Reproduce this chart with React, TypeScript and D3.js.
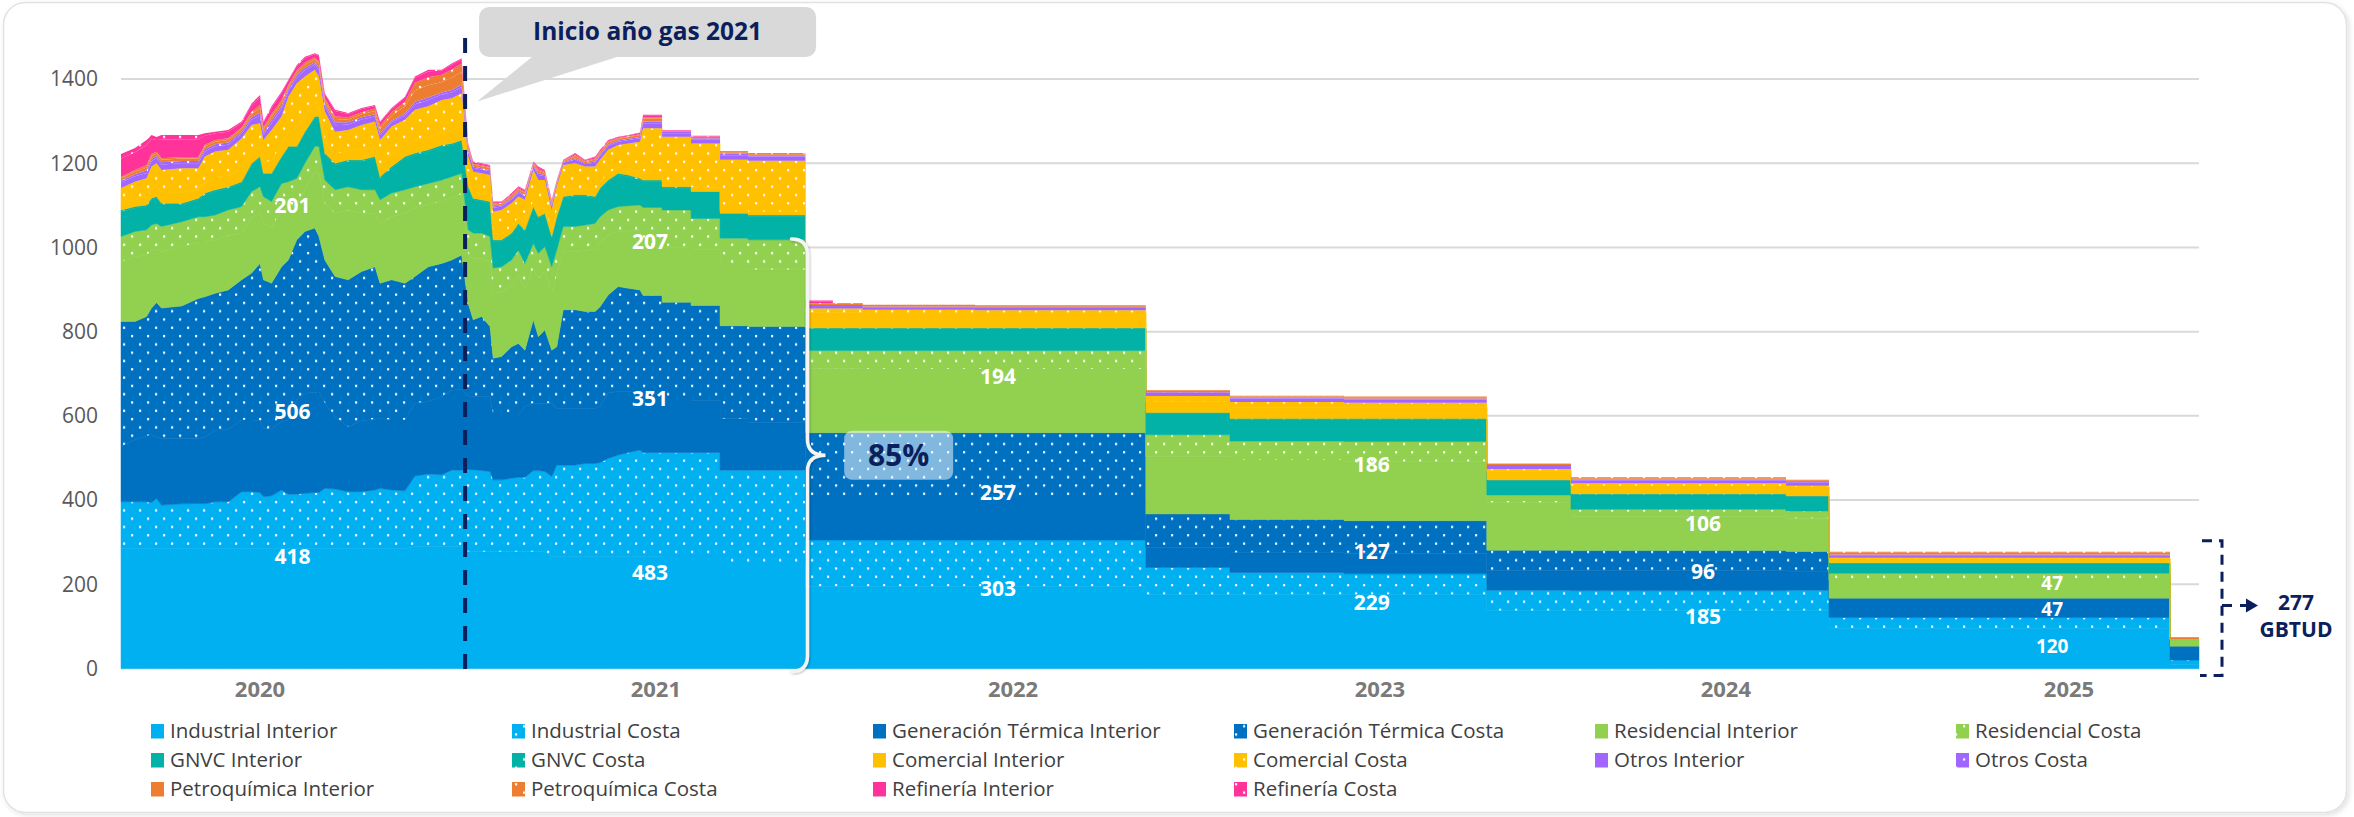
import React from 'react';
import * as d3 from 'd3';

const W = 2354;
const H = 817;

// x positions are in months since Jan 2020
const dailyMonths = [
  0, 0.45, 0.82, 0.98, 1.14, 1.3, 1.95, 2.48, 2.69, 3.02, 3.44, 3.87, 4.19, 4.46, 4.57, 4.83, 5.15, 5.37, 5.64, 5.9,
  6.22, 6.35, 6.54, 6.87, 7.29, 7.72, 8.15, 8.31, 8.68, 9.11, 9.43, 9.86, 10.29, 10.61, 10.93,
  11.14, 11.3, 11.57, 11.84, 11.94, 12.21, 12.53, 12.75, 12.96, 13.23, 13.39, 13.6, 13.82, 13.98, 14.19, 14.57, 14.89,
  15.21, 15.37, 15.63, 15.95, 16.28, 16.65,
];
// contract periods (flat steps) after the daily data
const segmentEdges = [16.75, 17.36, 18.29, 19.22, 20.12, 21.96, 22.84, 23.8, 27.4, 32.88, 35.58, 39.24, 42.44, 43.82, 46.52, 49.31, 53.42, 54.8, 65.74, 66.67];

const industrialInterior = [
  285, 285, 285, 285, 285, 285, 285, 285, 285, 285, 285, 285, 285, 285, 285, 285, 285, 285, 285, 285, 285, 285, 285, 285, 285, 285, 285, 285, 285, 285, 289, 289, 289, 289, 289,
  277, 277, 277, 277, 277, 277, 277, 277, 277, 277, 277, 277, 266, 266, 266, 266, 266, 266, 266, 266, 266, 266, 266,
  266, 265, 265, 246, 246, 195, 195, 194, 194, 175, 176, 175, 175, 137, 137, 137, 137, 95, 10,
];
const industrialCosta = [
  111, 111, 111, 109, 119, 103, 106, 107, 106, 111, 111, 135, 135, 133, 123, 125, 139, 129, 129, 131, 133, 133, 143, 141, 135, 135, 139, 143, 139, 137, 168, 173, 171, 182, 182,
  195, 195, 193, 191, 171, 171, 175, 177, 177, 193, 193, 191, 190, 217, 217, 217, 221, 221, 223, 233, 241, 247, 253,
  247, 248, 248, 225, 225, 110, 110, 111, 111, 65, 52, 50, 50, 49, 48, 48, 49, 26, 10,
];
const genInterior = [
  131, 147, 156, 161, 145, 159, 156, 155, 158, 170, 172, 170, 170, 171, 162, 158, 162, 176, 224, 238, 237, 240, 202, 172, 154, 169, 168, 166, 166, 168, 173, 172, 186, 190, 192,
  174, 174, 176, 178, 154, 154, 150, 148, 168, 160, 160, 162, 174, 135, 135, 135, 131, 131, 133, 155, 151, 145, 139,
  132, 132, 124, 122, 113, 95, 95, 95, 95, 48, 47, 49, 49, 46, 47, 47, 44, 46, 33,
];
const genCosta = [
  297, 281, 284, 301, 320, 309, 314, 332, 334, 325, 331, 333, 349, 373, 353, 347, 368, 380, 380, 384, 391, 368, 340, 333, 349, 354, 362, 321, 333, 325, 301, 320, 316, 309, 319,
  221, 182, 190, 166, 135, 139, 162, 170, 134, 198, 158, 174, 126, 146, 234, 234, 230, 230, 237, 233, 249, 245, 241,
  241, 225, 225, 221, 228, 160, 160, 160, 160, 79, 79, 77, 77, 49, 48, 48, 48, 0, 0,
];
const resInterior = [
  142, 154, 146, 137, 128, 134, 140, 134, 130, 126, 130, 112, 132, 120, 136, 132, 136, 124, 84, 100, 132, 152, 134, 150, 165, 138, 127, 142, 150, 166, 163, 148, 148, 148, 144,
  115, 146, 138, 154, 154, 153, 146, 162, 146, 122, 138, 138, 138, 170, 138, 138, 145, 149, 154, 142, 130, 136, 142,
  113, 129, 133, 137, 135, 153, 153, 151, 151, 136, 141, 140, 140, 113, 81, 81, 79, 43, 15,
];
const resCosta = [
  60, 60, 60, 60, 60, 60, 60, 60, 60, 60, 60, 62, 62, 62, 62, 62, 62, 62, 62, 62, 62, 62, 56, 56, 56, 56, 56, 56, 56, 56, 50, 50, 50, 50, 50,
  60, 60, 60, 60, 60, 60, 60, 60, 60, 60, 60, 60, 60, 60, 60, 60, 60, 60, 60, 60, 60, 60, 60,
  96, 90, 74, 71, 71, 42, 42, 44, 44, 52, 45, 48, 48, 18, 17, 17, 17, 16, 2,
];
const gnvcInterior = [
  59, 55, 55, 60, 60, 51, 40, 40, 52, 56, 51, 55, 63, 68, 51, 63, 60, 80, 72, 71, 67, 67, 60, 59, 60, 67, 75, 51, 59, 75, 76, 76, 79, 75, 75,
  99, 79, 75, 79, 63, 60, 60, 59, 76, 83, 83, 75, 68, 75, 67, 71, 68, 60, 64, 67, 75, 69, 59,
  61, 51, 60, 55, 55, 52, 52, 52, 52, 51, 52, 53, 53, 34, 35, 35, 34, 23, 0,
];
const gnvcCosta = [
  4, 4, 4, 4, 4, 4, 4, 4, 4, 4, 4, 4, 4, 4, 4, 4, 4, 4, 4, 4, 4, 4, 4, 4, 4, 4, 4, 4, 4, 4, 4, 4, 4, 4, 4,
  4, 4, 4, 4, 4, 4, 4, 4, 4, 4, 4, 4, 4, 4, 4, 4, 4, 4, 4, 4, 4, 4, 4,
  4, 4, 4, 4, 4, 2, 2, 2, 2, 2, 2, 2, 2, 2, 2, 2, 2, 2, 0,
];
const comInterior = [
  16, 18, 19, 22, 24, 24, 25, 21, 26, 27, 26, 31, 27, 24, 24, 31, 28, 35, 45, 39, 33, 28, 30, 22, 21, 25, 25, 26, 28, 26, 31, 31, 32, 32, 33,
  15, 15, 15, 15, 15, 15, 15, 15, 15, 15, 15, 15, 15, 15, 15, 15, 15, 15, 15, 15, 15, 15, 15,
  15, 12, 10, 8, 8, 36, 36, 35, 35, 26, 26, 26, 26, 20, 19, 19, 21, 9, 0,
];
const comCosta = [
  36, 41, 44, 53, 55, 55, 58, 50, 61, 64, 62, 72, 64, 55, 55, 72, 67, 83, 105, 92, 78, 67, 69, 53, 50, 58, 58, 61, 67, 61, 72, 72, 75, 75, 78,
  56, 48, 48, 48, 52, 56, 56, 49, 56, 72, 72, 64, 48, 56, 60, 60, 52, 56, 52, 57, 52, 60, 72,
  108, 107, 104, 119, 121, 10, 10, 8, 7, 13, 13, 11, 11, 6, 6, 6, 3, 3, 0,
];
const otrosInterior = [
  13, 13, 13, 13, 12, 13, 12, 12, 12, 12, 12, 11, 13, 18, 13, 16, 17, 13, 13, 15, 13, 15, 13, 15, 13, 13, 12, 11, 10, 11, 13, 15, 13, 14, 15,
  12, 9, 9, 9, 9, 8, 9, 9, 9, 8, 12, 9, 9, 6, 5, 9, 6, 9, 9, 9, 8, 8, 8,
  12, 8, 9, 11, 10, 6, 6, 6, 6, 7, 8, 8, 8, 7, 7, 7, 7, 6, 0,
];
const otrosCosta = [
  5, 5, 6, 5, 5, 5, 5, 5, 5, 5, 5, 5, 6, 7, 5, 7, 7, 5, 6, 6, 5, 7, 6, 7, 5, 5, 5, 5, 4, 4, 6, 6, 5, 6, 6,
  4, 3, 3, 3, 3, 3, 3, 3, 3, 3, 4, 3, 3, 2, 2, 3, 2, 3, 3, 3, 3, 3, 3,
  4, 3, 3, 4, 3, 2, 2, 2, 2, 2, 2, 2, 2, 2, 2, 2, 2, 2, 0,
];
const petroInterior = [
  5, 6, 7, 7, 6, 6, 6, 6, 6, 6, 6, 6, 7, 11, 7, 9, 9, 6, 7, 7, 7, 8, 7, 8, 7, 7, 8, 11, 12, 17, 27, 29, 25, 29, 30,
  6, 5, 5, 5, 5, 4, 5, 5, 5, 4, 6, 5, 5, 3, 2, 5, 3, 5, 5, 5, 4, 4, 5,
  7, 2, 3, 3, 2, 3, 3, 3, 3, 3, 3, 3, 3, 3, 3, 3, 3, 4, 4,
];
const petroCosta = [
  3, 4, 5, 5, 4, 4, 4, 4, 4, 4, 4, 4, 5, 7, 5, 6, 6, 4, 5, 5, 4, 6, 5, 6, 5, 5, 6, 7, 8, 11, 18, 19, 17, 19, 20,
  3, 2, 2, 2, 2, 2, 2, 2, 2, 2, 3, 2, 2, 2, 1, 2, 2, 2, 2, 2, 2, 2, 2,
  3, 1, 1, 1, 1, 2, 2, 1, 1, 2, 2, 2, 2, 1, 2, 2, 2, 2, 1,
];
const refineriaInterior = [
  44, 42, 48, 36, 28, 44, 42, 42, 22, 16, 16, 11, 16, 19, 11, 14, 16, 10, 10, 11, 8, 12, 10, 13, 8, 8, 6, 8, 8, 10, 12, 14, 10, 12, 10,
  4, 3, 3, 3, 3, 2, 3, 3, 3, 2, 4, 3, 3, 2, 1, 3, 2, 3, 3, 2, 2, 2, 3,
  4, 1, 1, 1, 1, 4, 0, 0, 0, 0, 0, 0, 0, 0, 0, 0, 0, 0, 0,
];
const refineriaCosta = [
  11, 10, 12, 9, 7, 11, 10, 10, 6, 4, 4, 3, 4, 5, 3, 4, 4, 2, 2, 3, 2, 3, 2, 3, 2, 2, 2, 2, 2, 2, 3, 4, 2, 3, 2,
  2, 2, 2, 2, 2, 1, 2, 2, 2, 1, 3, 2, 2, 1, 1, 2, 1, 2, 2, 2, 1, 1, 1,
  2, 1, 1, 1, 1, 2, 0, 0, 0, 0, 0, 0, 0, 0, 0, 0, 0, 0, 0,
];

const seriesNames = [
  'Industrial Interior', 'Industrial Costa', 'Generación Térmica Interior', 'Generación Térmica Costa',
  'Residencial Interior', 'Residencial Costa', 'GNVC Interior', 'GNVC Costa', 'Comercial Interior', 'Comercial Costa',
  'Otros Interior', 'Otros Costa', 'Petroquímica Interior', 'Petroquímica Costa', 'Refinería Interior', 'Refinería Costa',
];
const seriesValues = [
  industrialInterior, industrialCosta, genInterior, genCosta, resInterior, resCosta, gnvcInterior, gnvcCosta,
  comInterior, comCosta, otrosInterior, otrosCosta, petroInterior, petroCosta, refineriaInterior, refineriaCosta,
];
const seriesColors = [
  '#00B0F0', '#00B0F0', '#0070C0', '#0070C0', '#92D050', '#92D050', '#03B2A6', '#03B2A6',
  '#FFC000', '#FFC000', '#A066FF', '#A066FF', '#ED7D31', '#ED7D31', '#FF3399', '#FF3399',
];
const seriesDotted = seriesNames.map((n) => n.endsWith('Costa'));

const yTicks = [0, 200, 400, 600, 800, 1000, 1200, 1400];
const yearLabels = ['2020', '2021', '2022', '2023', '2024', '2025'];
const yearLabelPos = [4.46, 17.16, 28.62, 40.39, 51.49, 62.5];

// sector totals shown on the chart (GBTUD) and where they sit
const labelPos = [5.5, 16.97, 28.14, 40.13, 50.76, 61.96];
const industrialLabels = [418, 483, 303, 229, 185, 120];
const industrialLabelAt = [265, 227, 189, 156, 123, 53];
const genLabels = [506, 351, 257, 127, 96, 47];
const genLabelAt = [609, 642, 417, 277, 229, 140];
const resLabels = [201, 207, 194, 186, 106, 47];
const resLabelAt = [1099, 1013, 692, 483, 343, 203];
const labelSizes = [21, 21, 21, 21, 21, 19];

const gasYearStart = 11.04;
const braceAt = 21.96;
const braceTopValue = 1020;
const shareText = '85%';
const shareAt = 24.95;
const finalTotal = 277;

const FONT = "'Open Sans', 'Noto Sans', sans-serif";
const NAVY = '#0B1F5C';

export default function App() {
  const x = d3.scaleLinear().domain([0, 66.67]).range([121, 2199]);
  const y = d3.scaleLinear().domain([0, 1400]).range([668.5, 79]);

  const nDaily = dailyMonths.length;
  const rows: any[] = [];
  for (let i = 0; i < nDaily; i++) {
    const r: any = { t: dailyMonths[i] };
    seriesNames.forEach((k, j) => (r[k] = seriesValues[j][i]));
    rows.push(r);
  }
  for (let s = 0; s < segmentEdges.length - 1; s++) {
    for (const t of [segmentEdges[s], segmentEdges[s + 1]]) {
      const r: any = { t };
      seriesNames.forEach((k, j) => (r[k] = seriesValues[j][nDaily + s]));
      rows.push(r);
    }
  }
  const stacked = d3.stack<any>().keys(seriesNames)(rows);
  const area = d3
    .area<any>()
    .x((d) => x(d.data.t))
    .y0((d) => y(d[0]))
    .y1((d) => y(d[1]));

  const fillOf = (i: number) => (seriesDotted[i] ? `url(#dots${i})` : seriesColors[i]);

  const gx = x(gasYearStart);
  const bx = x(braceAt);
  const bTop = y(braceTopValue);
  const bBot = y(0) + 3;
  const bMid = (bTop + bBot) / 2;
  const bracePath = `M${bx - 14},${bTop} Q${bx + 2},${bTop} ${bx + 2},${bTop + 16} L${bx + 2},${bMid - 16} Q${bx + 2},${bMid} ${bx + 20},${bMid} Q${bx + 2},${bMid} ${bx + 2},${bMid + 16} L${bx + 2},${bBot - 16} Q${bx + 2},${bBot} ${bx - 14},${bBot}`;

  const sx = x(shareAt);
  const rTop = y(finalTotal) - 11;
  const rBot = y(0) + 7;
  const rMid = rTop + (rBot - rTop) * 0.48;
  const rx = x(66.67) + 23;

  return (
    <svg width={W} height={H} style={{ position: 'absolute', left: 0, top: 0, background: '#fff' }} fontFamily={FONT}>
      <defs>
        {seriesNames.map((n, i) =>
          seriesDotted[i] ? (
            <pattern key={n} id={`dots${i}`} width={16} height={16.6} patternUnits="userSpaceOnUse">
              <rect width={16} height={16.6} fill={seriesColors[i]} />
              <rect x={3} y={3} width={2.2} height={2.2} fill="#fff" />
              <rect x={11} y={11.3} width={2.2} height={2.2} fill="#fff" />
            </pattern>
          ) : null
        )}
        <filter id="cardShadow" x="-2%" y="-5%" width="104%" height="110%">
          <feDropShadow dx={2} dy={2} stdDeviation={2.5} floodColor="#000" floodOpacity={0.12} />
        </filter>
        <filter id="braceShadow" x="-50%" y="-5%" width="200%" height="110%">
          <feDropShadow dx={1} dy={1} stdDeviation={1.2} floodColor="#000" floodOpacity={0.25} />
        </filter>
      </defs>

      <rect x={3.5} y={2.5} width={2343} height={810} rx={22} fill="#fff" stroke="#e2e2e2" strokeWidth={1.5} filter="url(#cardShadow)" />

      {/* grid */}
      {yTicks.map((v) => (
        <g key={v}>
          <line x1={x(0)} x2={x(66.67)} y1={y(v)} y2={y(v)} stroke="#d9d9d9" strokeWidth={2} />
          <text x={98} y={y(v)} dy="0.35em" textAnchor="end" fontSize={21} fill="#595959">
            {v}
          </text>
        </g>
      ))}

      {/* stacked areas */}
      {stacked.map((layer, i) => (
        <path
          key={seriesNames[i]}
          d={area(layer) || ''}
          fill={fillOf(i)}
          stroke={i < 10 ? seriesColors[i] : 'none'}
          strokeWidth={0.5}
        />
      ))}

      {/* year labels */}
      {yearLabels.map((lab, i) => (
        <text key={lab} x={x(yearLabelPos[i])} y={697} textAnchor="middle" fontSize={22} fontWeight={700} fill="#7a7a7a">
          {lab}
        </text>
      ))}

      {/* sector labels */}
      {labelPos.map((p, i) => (
        <g key={`lab${i}`} fontSize={labelSizes[i]} fontWeight={700} fill="#fff" textAnchor="middle">
          <text x={x(p)} y={y(industrialLabelAt[i])} dy="0.35em">{industrialLabels[i]}</text>
          <text x={x(p)} y={y(genLabelAt[i])} dy="0.35em">{genLabels[i]}</text>
          <text x={x(p)} y={y(resLabelAt[i])} dy="0.35em">{resLabels[i]}</text>
        </g>
      ))}

      {/* gas year start marker */}
      <line x1={gx} x2={gx} y1={38} y2={y(0) + 2} stroke={NAVY} strokeWidth={4} strokeDasharray="15 13" />
      <rect x={gx + 14} y={7} width={337} height={50} rx={10} fill="#d9d9d9" />
      <path d={`M${gx + 68},56 L${gx + 155},56 L${gx + 12},101.5 Z`} fill="#d9d9d9" />
      <text x={gx + 182.5} y={40} textAnchor="middle" fontSize={24.5} fontWeight={700} fill={NAVY}>
        Inicio año gas 2021
      </text>

      {/* brace + share */}
      <path d={bracePath} fill="none" stroke="#f4f4f4" strokeWidth={3.5} strokeLinecap="round" filter="url(#braceShadow)" />
      <rect x={sx - 54.5} y={bMid - 24.5} width={109} height={49} rx={8} fill="#fff" fillOpacity={0.5} />
      <text x={sx} y={bMid} dy="0.36em" textAnchor="middle" fontSize={30} fontWeight={700} fill={NAVY}>
        {shareText}
      </text>

      {/* final total bracket */}
      <path
        d={`M${rx - 20},${rTop} H${rx} V${rBot} H${rx - 22}`}
        fill="none"
        stroke={NAVY}
        strokeWidth={3}
        strokeDasharray="10 7"
      />
      <line x1={rx} x2={rx + 10} y1={rMid} y2={rMid} stroke={NAVY} strokeWidth={3} />
      <line x1={rx + 18} x2={rx + 26} y1={rMid} y2={rMid} stroke={NAVY} strokeWidth={3} />
      <path d={`M${rx + 24},${rMid - 7} L${rx + 36},${rMid} L${rx + 24},${rMid + 7} Z`} fill={NAVY} />
      <text x={rx + 74} y={610} textAnchor="middle" fontSize={21} fontWeight={700} fill={NAVY}>
        {finalTotal}
      </text>
      <text x={rx + 74} y={637} textAnchor="middle" fontSize={21} fontWeight={700} fill={NAVY}>
        GBTUD
      </text>

      {/* legend */}
      {seriesNames.map((n, i) => {
        const col = i % 6;
        const row = Math.floor(i / 6);
        const lx = 151 + col * 361;
        const ly = 738 + row * 29;
        return (
          <g key={`lg${n}`}>
            <rect x={lx} y={ly - 14} width={13} height={14.5} fill={fillOf(i)} />
            <text x={lx + 19} y={ly} fontSize={20.5} fill="#404040">
              {n}
            </text>
          </g>
        );
      })}
    </svg>
  );
}
